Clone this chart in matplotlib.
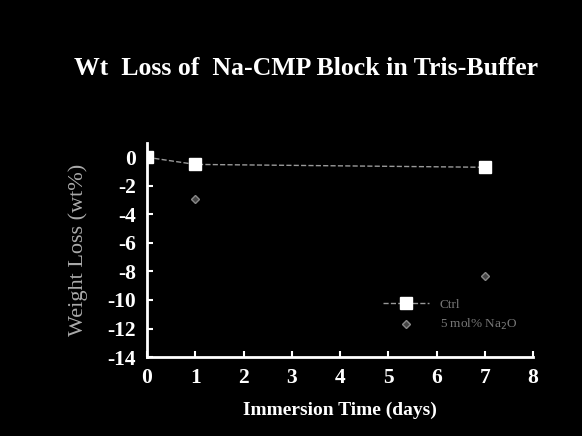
import matplotlib
matplotlib.use("Agg")
import matplotlib.pyplot as plt

days_ctrl = [0, 1, 7]
loss_ctrl = [0.0, -0.5, -0.7]
days_na = [1, 7]
loss_na = [-2.9, -8.3]
xticks = [0, 1, 2, 3, 4, 5, 6, 7, 8]
yticks = [0, -2, -4, -6, -8, -10, -12, -14]

plt.rcParams['font.family'] = ['Liberation Serif', 'DejaVu Serif']

fig = plt.figure(figsize=(5.82, 4.36), dpi=100, facecolor='black')
ax = fig.add_axes([0.2526, 0.181, 0.6632, 0.491], facecolor='black')

ax.plot(days_ctrl, loss_ctrl, linestyle='--', color='#999999', linewidth=1,
        marker='s', markersize=8, markerfacecolor='white', markeredgecolor='white',
        label='Ctrl', zorder=3)
ax.plot(days_na, loss_na, linestyle='none', color='#777777',
        marker='D', markersize=4, markerfacecolor='#444444', markeredgecolor='#888888',
        label='5 mol% Na$_2$O', zorder=3)

ax.set_xlim(0, 8)
ax.set_ylim(-14, 1)
ax.set_xticks(xticks)
ax.set_yticks(yticks)
ax.set_xticklabels([str(v) for v in xticks], fontsize=15.5, fontweight='bold', color='white')
ax.set_yticklabels([str(v) for v in yticks], fontsize=15.5, fontweight='bold', color='white')
ax.tick_params(direction='in', colors='white', length=4, width=1.5)
ax.tick_params(axis='x', pad=8)
ax.tick_params(axis='y', pad=8)

for s in ['top', 'right']:
    ax.spines[s].set_visible(False)
for s in ['left', 'bottom']:
    ax.spines[s].set_color('white')
    ax.spines[s].set_linewidth(2)

ax.set_xlabel('Immersion Time (days)', fontsize=14, fontweight='bold', color='white', labelpad=10)
ax.set_ylabel('Weight Loss (wt%)', fontsize=16, color='#aaaaaa', labelpad=14)

fig.text(0.525, 0.843, 'Wt  Loss of  Na-CMP Block in Tris-Buffer', ha='center', va='center',
         fontsize=18.5, fontweight='bold', color='white')

leg = ax.legend(loc='lower right', bbox_to_anchor=(0.99, 0.06), frameon=False,
                fontsize=9.5, labelcolor='#777777', handlelength=3.5)

fig.savefig('out.png', dpi=100, facecolor='black')
